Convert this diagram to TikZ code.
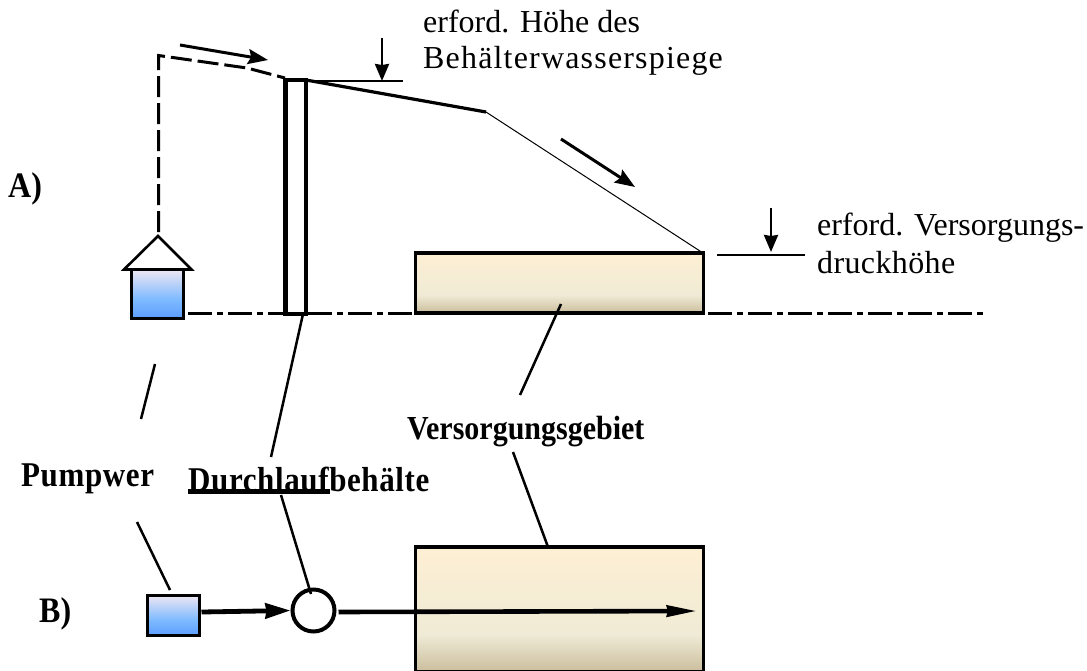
\documentclass[tikz,border=0pt]{standalone}
\usepackage{fontspec}
\usepackage{graphicx}
\setmainfont{Liberation Serif}
\usetikzlibrary{arrows.meta}
\definecolor{sandA}{HTML}{FDEFD3}
\definecolor{sandB}{HTML}{F0EBD6}
\definecolor{sandC}{HTML}{CABD9C}
\definecolor{blueA}{HTML}{EEE6F2}
\definecolor{blueB}{HTML}{7FBBFF}
\definecolor{blueC}{HTML}{5C9DFF}
\pgfdeclareverticalshading{sandshade}{100bp}{color(0bp)=(sandC); color(25bp)=(sandC); color(40bp)=(sandB); color(75bp)=(sandA); color(100bp)=(sandA)}
\pgfdeclareverticalshading{blueshade}{100bp}{color(0bp)=(blueC); color(25bp)=(blueC); color(45bp)=(blueB); color(75bp)=(blueA); color(100bp)=(blueA)}
\newcommand{\tallbold}[1]{\scalebox{1}[1.12]{#1}}
\tikzset{
  area/.style={draw=black,line width=3.2pt,shading=sandshade,anchor=north west,inner sep=0pt,outer sep=0pt},
  pumpbox/.style={draw=black,line width=3.2pt,shading=blueshade,anchor=north west,inner sep=0pt,outer sep=0pt},
  leader/.style={line width=2.5pt,black},
  flowarrow/.style={line width=3pt,-{Stealth[length=20pt,width=15pt,inset=3pt]}},
  dimarrow/.style={line width=2.6pt,-{Stealth[length=17pt,width=14pt,inset=1pt]}},
  lab/.style={font=\fontsize{32}{36}\selectfont,inner sep=0pt,anchor=base west,align=left},
  blab/.style={font=\fontsize{30}{34}\selectfont\bfseries,inner sep=0pt,anchor=base west},
}
\begin{document}
\begin{tikzpicture}[x=1pt,y=-1pt]
\useasboundingbox (0,0) rectangle (1087,670);
\clip (0,0) rectangle (1087,670);
% axis
\coordinate (axisL) at (188,313.5);
\coordinate (axisR) at (985,313.5);
\draw[line width=3.2pt,dash pattern=on 24pt off 5pt on 6pt off 5pt] (axisL) -- (axisR);
% pump A
\node[pumpbox,minimum width=52pt,minimum height=49pt] (pumpA) at (131.5,269.5) {};
\coordinate (roofTop) at (158,236);
\coordinate (roofL) at (124,269.5);
\coordinate (roofR) at (191.5,269.5);
\draw[line width=2.6pt,fill=white,line join=miter] (roofL) -- (roofTop) -- (roofR) -- cycle;
% column
\node[draw=black,line width=4.4pt,fill=white,anchor=north west,inner sep=0pt,outer sep=0pt,minimum width=20.5pt,minimum height=234pt] (column) at (285.5,80) {};
% dashed pressure line
\coordinate (dashA) at (158.5,232);
\coordinate (dashB) at (158.5,55.5);
\coordinate (dashK) at (247,68);
\coordinate (dashC) at (285,78);
\draw[line width=3pt,dash pattern=on 21pt off 6pt] (dashA) -- (dashB) -- (dashK) -- (dashC);
% pressure line
\coordinate (knick) at (486,112);
\coordinate (areaCorner) at (703,253);
\draw[line width=3.2pt] (306,80) -- (knick);
\draw[line width=1pt] (knick) -- (areaCorner);
% flow arrows
\coordinate (f1a) at (180,45); \coordinate (f1b) at (268,60);
\draw[flowarrow] (f1a) -- (f1b);
\coordinate (f2a) at (561,139); \coordinate (f2b) at (635,187);
\draw[flowarrow] (f2a) -- (f2b);
% required height
\coordinate (hA) at (312,81); \coordinate (hB) at (403,81);
\draw[line width=2.6pt] (hA) -- (hB);
\coordinate (h1) at (382,38); \coordinate (h2) at (382,81);
\draw[dimarrow] (h1) -- (h2);
\coordinate (vA) at (717,255); \coordinate (vB) at (805,255);
\draw[line width=2.8pt] (vA) -- (vB);
\coordinate (v1) at (771,208); \coordinate (v2) at (771,252);
\draw[dimarrow] (v1) -- (v2);
% area A
\node[area,minimum width=288pt,minimum height=60pt] (areaA) at (415.5,253) {};
% area B
\node[area,minimum width=288pt,minimum height=125pt] (areaB) at (415.5,547) {};
% pump B, tank
\node[pumpbox,minimum width=52pt,minimum height=40pt] (pumpB) at (147.5,595.5) {};
\node[draw=black,line width=4pt,fill=white,circle,inner sep=0pt,minimum size=42pt] (tank) at (313.5,610.5) {};
% plan arrows
\draw[line width=4.8pt,-{Stealth[length=25pt,width=15pt,inset=1pt]}] (pumpB.east |- 0,612) ++(2,0) -- (tank.west);
\coordinate (planEnd) at (697,611);
\draw[line width=4.6pt,-{Stealth[length=30pt,width=11pt,inset=1pt]}] (tank.east |- 0,612) ++(2,0) -- (planEnd);
% labels
\node[blab,font=\fontsize{32}{34}\selectfont\bfseries] (lblA) at (8,197) {\tallbold{A)}};
\node[blab,font=\fontsize{32}{34}\selectfont\bfseries] (lblB) at (39,622) {\tallbold{B)}};
\node[blab,font=\fontsize{31}{34}\selectfont\bfseries\addfontfeature{LetterSpace=2}] (lblP) at (21,486) {\tallbold{Pumpwer}};
\node[blab] (lblV) at (407,439) {\tallbold{Versorgungsgebiet}};
\node[blab,font=\fontsize{31}{34}\selectfont\bfseries\addfontfeature{LetterSpace=2}] (lblD) at (188,491) {\tallbold{Durchlaufbehälte}};
\coordinate (ulA) at (188,491.5); \coordinate (ulB) at (330,491.5);
\draw[line width=4.4pt] (ulA) -- (ulB);
\node[lab] (lblH1) at (423,32) {erford. Höhe des};
\node[lab,font=\fontsize{32}{36}\selectfont\addfontfeature{LetterSpace=3.7}] (lblH2) at (423,68) {Behälterwasserspiege};
\node[lab] (lblV1) at (817,235) {erford. Versorgungs-};
\node[lab,font=\fontsize{32}{36}\selectfont\addfontfeature{LetterSpace=1.2}] (lblV2) at (817,273) {druckhöhe};
% leaders
\coordinate (l1a) at (155,364); \coordinate (l1b) at (141,419);
\draw[leader] (l1a) -- (l1b);
\coordinate (l2a) at (137,522); \coordinate (l2b) at (170,590);
\draw[leader] (l2a) -- (l2b);
\coordinate (l3a) at (303,314); \coordinate (l3b) at (271,457);
\draw[leader] (l3a) -- (l3b);
\coordinate (l4a) at (281,495); \coordinate (l4b) at (311,594);
\draw[leader] (l4a) -- (l4b);
\coordinate (l5a) at (561,304); \coordinate (l5b) at (520,395);
\draw[leader] (l5a) -- (l5b);
\coordinate (l6a) at (513,452); \coordinate (l6b) at (548,547);
\draw[leader] (l6a) -- (l6b);
\end{tikzpicture}
\end{document}
